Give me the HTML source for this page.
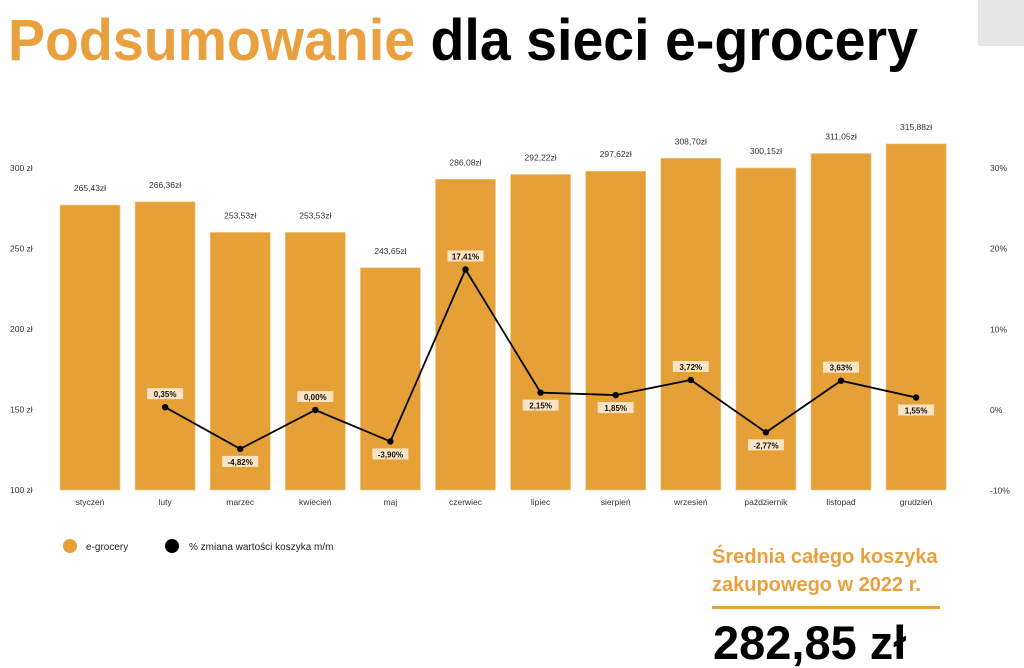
<!DOCTYPE html>
<html><head><meta charset="utf-8"><style>
html,body{margin:0;padding:0;background:#fff;}
svg{display:block;font-family:"Liberation Sans",sans-serif;}
</style></head><body>
<svg id="c" width="1024" height="668" viewBox="0 0 1024 668">
<rect x="978" y="0" width="46" height="46" fill="#e5e5e5"/>
<text x="8" y="60" font-size="58" font-weight="bold" textLength="910" lengthAdjust="spacingAndGlyphs"><tspan fill="#e9a03e">Podsumowanie</tspan><tspan fill="#000"> dla sieci e-grocery</tspan></text>
<g id="axes"></g>
<g id="bars"></g>
<g id="line"></g>
<g>
<circle cx="70" cy="546" r="7" fill="#e5a038"/>
<text x="86" y="550" font-size="10" fill="#222">e-grocery</text>
<circle cx="172" cy="546" r="7" fill="#000"/>
<text x="189" y="550" font-size="10" fill="#222">% zmiana wartości koszyka m/m</text>
</g>
<g>
<text x="712" y="563" font-size="20" font-weight="bold" fill="#e9a03e">Średnia całego koszyka</text>
<text x="712" y="591" font-size="20" font-weight="bold" fill="#e9a03e">zakupowego w 2022 r.</text>
<rect x="712" y="606" width="228" height="3" fill="#e9a03e"/>
<text x="713" y="659" font-size="47" font-weight="bold" fill="#000">282,85 zł</text>
</g>
</svg>
<script>
const months = ["styczeń","luty","marzec","kwiecień","maj","czerwiec","lipiec","sierpień","wrzesień","październik","listopad","grudzień"];
const barValues = [277,279,260,260,238,293,296,298,306,300,309,315];
const barLabels = ["265,43zł","266,36zł","253,53zł","253,53zł","243,65zł","286,08zł","292,22zł","297,62zł","308,70zł","300,15zł","311,05zł","315,88zł"];
const pctValues = [null,0.35,-4.82,0,-3.9,17.41,2.15,1.85,3.72,-2.77,3.63,1.55];
const pctLabels = ["","0,35%","-4,82%","0,00%","-3,90%","17,41%","2,15%","1,85%","3,72%","-2,77%","3,63%","1,55%"];
const pctLabelAbove = [true,true,false,true,false,true,false,false,true,false,true,false];
const leftTicks = [100,150,200,250,300];
const rightTicks = [-10,0,10,20,30];

const NS="http://www.w3.org/2000/svg";
function mk(tag,attrs,parent){const e=document.createElementNS(NS,tag);for(const k in attrs)e.setAttribute(k,attrs[k]);parent.appendChild(e);return e;}
const yL=v=>490-(v-100)*(322/200);
const yR=v=>410-v*8.07;
const xC=i=>90+i*75.1;
const BW=60;
const axes=document.getElementById('axes'),bars=document.getElementById('bars'),line=document.getElementById('line');
leftTicks.forEach(t=>{
 const e=mk('text',{x:10,y:yL(t)+3,'font-size':8.5,fill:'#333'},axes);
 
 
 e.textContent=t+' zł';
});
rightTicks.forEach(t=>{
 const e=mk('text',{x:990,y:yR(t)+3,'font-size':8.5,fill:'#333'},axes);
 
 
 e.textContent=t+'%';
});
months.forEach((m,i)=>{
 const top=yL(barValues[i]);
 const r=mk('rect',{x:xC(i)-BW/2,y:top,width:BW,height:490-top,fill:'#e5a038',stroke:'#f3c98a','stroke-width':0.6},bars);
 
 
 const v=mk('text',{x:xC(i),y:top-14,'font-size':8.5,fill:'#333','text-anchor':'middle'},bars);
 
 
 v.textContent=barLabels[i];
 const c=mk('text',{x:xC(i),y:505,'font-size':8.5,fill:'#333','text-anchor':'middle'},bars);
 
 
 c.textContent=m;
});
let d='';
pctValues.forEach((p,i)=>{if(p===null)return;d+=(d?'L':'M')+xC(i)+','+yR(p);});
const pl=mk('path',{d:d,fill:'none',stroke:'#000','stroke-width':1.8},line);


pctValues.forEach((p,i)=>{
 if(p===null)return;
 const y=yR(p);
 const dot=mk('circle',{cx:xC(i),cy:y,r:3.2,fill:'#000'},line);
 
 
 const ly=pctLabelAbove[i]?y-13:y+13;
 const bg=mk('rect',{x:xC(i)-18,y:ly-6,width:36,height:11,fill:'#fbe3c4'},line);
 
 
 const t=mk('text',{x:xC(i),y:ly+3,'font-size':8,'font-weight':'bold',fill:'#111','text-anchor':'middle'},line);
 
 
 t.textContent=pctLabels[i];
});
</script>
</body></html>
